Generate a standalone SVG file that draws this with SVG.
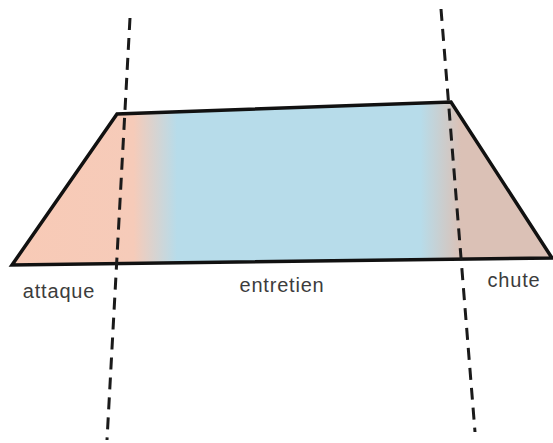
<svg xmlns="http://www.w3.org/2000/svg" width="553" height="443" viewBox="0 0 553 443">
<style>
.lbl{font-family:"Liberation Sans",Arial,sans-serif;font-size:20px;letter-spacing:0.8px;fill:#3c3c3c;text-anchor:middle}
.dash{stroke:#1a1a1a;stroke-width:3;stroke-dasharray:12 8;fill:none}
</style>
<defs>
<linearGradient id="g" gradientUnits="userSpaceOnUse" x1="12" y1="0" x2="553" y2="0">
<stop offset="0" stop-color="#f8cab6"/>
<stop offset="0.225" stop-color="#f6cbb9"/>
<stop offset="0.305" stop-color="#b7dcea"/>
<stop offset="0.755" stop-color="#b7dcea"/>
<stop offset="0.83" stop-color="#dbc1b6"/>
<stop offset="1" stop-color="#dbc1b6"/>
</linearGradient>
</defs>
<g id="trapezoid">
<polygon points="12,265 117,114 451,102 552,258" fill="url(#g)" stroke="#111" stroke-width="3.5" stroke-linejoin="miter"/>
</g>
<g id="connectors">
<line class="dash" x1="130" y1="18" x2="107" y2="440"/>
<line class="dash" x1="441" y1="9" x2="475" y2="432"/>
</g>
<g id="labels">
<text class="lbl" x="59" y="298">attaque</text>
<text class="lbl" x="282" y="292">entretien</text>
<text class="lbl" x="514" y="287">chute</text>
</g>
</svg>
